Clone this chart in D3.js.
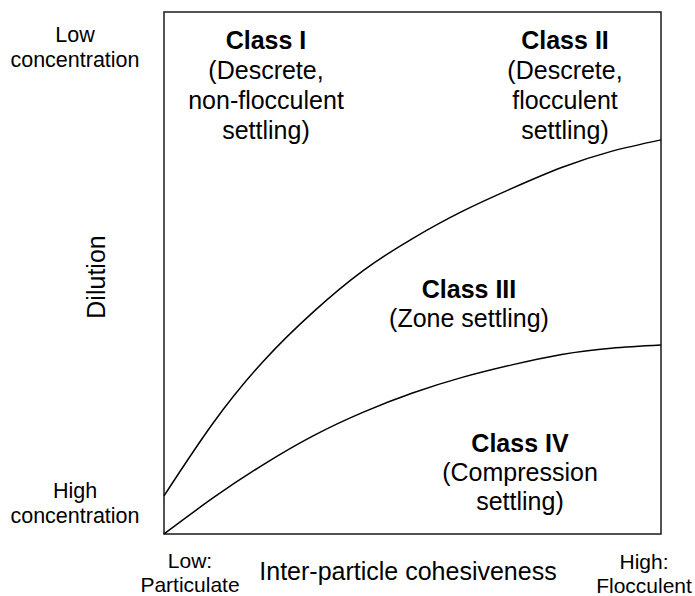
<!DOCTYPE html>
<html>
<head>
<meta charset="utf-8">
<script src="https://cdn.jsdelivr.net/npm/d3@7"></script>
<style>
  body { margin: 0; background: #fff; }
  text { font-family: "Liberation Sans", Arial, sans-serif; fill: #000; }
</style>
</head>
<body>
<div id="chart"></div>
<script>
// --- DATA ---
// cohesiveness (0 = particulate, 1 = flocculent)
const cohesion = [0, 0.1, 0.2, 0.3, 0.4, 0.5, 0.6, 0.7, 0.8, 0.9, 1.0];
// boundary between Class I/II and Class III (fraction of dilution axis)
const zoneBoundary = [0.073, 0.214, 0.331, 0.425, 0.504, 0.566, 0.618, 0.662, 0.702, 0.733, 0.755];
// boundary between Class III and Class IV
const compressionBoundary = [0, 0.070, 0.133, 0.188, 0.233, 0.270, 0.300, 0.324, 0.344, 0.356, 0.362];

const classNames = ["Class I", "Class II", "Class III", "Class IV"];
const classNotes = [
    ["(Descrete,", "non-flocculent", "settling)"],
    ["(Descrete,", "flocculent", "settling)"],
    ["(Zone settling)"],
    ["(Compression", "settling)"]
];
const yEndLabels = [["Low", "concentration"], ["High", "concentration"]];
const xEndLabels = [["Low:", "Particulate"], ["High:", "Flocculent"]];
const xTitle = "Inter-particle cohesiveness";
const yTitle = "Dilution";

// --- LAYOUT ---
const width = 695, height = 596;
const box = { left: 164, right: 661, top: 12, bottom: 534 };

const svg = d3.select("#chart")
    .append("svg")
    .attr("width", width)
    .attr("height", height);

const x = d3.scaleLinear().domain([0, 1]).range([box.left, box.right]);
const y = d3.scaleLinear().domain([0, 1]).range([box.bottom, box.top]);

// frame
svg.append("rect")
    .attr("x", x(0))
    .attr("y", y(1))
    .attr("width", x(1) - x(0))
    .attr("height", y(0) - y(1))
    .attr("fill", "none")
    .attr("stroke", "#1a1a1a")
    .attr("stroke-width", 1.5);

// boundary curves
const line = d3.line()
    .x(d => x(d[0]))
    .y(d => y(d[1]))
    .curve(d3.curveNatural);

[zoneBoundary, compressionBoundary].forEach(series => {
    svg.append("path")
        .datum(cohesion.map((c, i) => [c, series[i]]))
        .attr("d", line)
        .attr("fill", "none")
        .attr("stroke", "#000")
        .attr("stroke-width", 1.5);
});

// region labels: [centre x, first baseline y] in pixels
const classAnchors = [[266, 49], [565, 49], [469, 298], [520, 452]];
const classSpacing = [30, 30, 29, 29];

classNames.forEach((name, i) => {
    const [cx, cy] = classAnchors[i];
    const t = svg.append("text")
        .attr("text-anchor", "middle")
        .attr("font-size", "25px");
    t.append("tspan")
        .attr("x", cx).attr("y", cy)
        .attr("font-weight", "bold")
        .text(name);
    classNotes[i].forEach((s, j) => {
        t.append("tspan")
            .attr("x", cx).attr("y", cy + classSpacing[i] * (j + 1))
            .text(s);
    });
});

// end labels of the dilution axis
const yEndPos = [[75, 42], [75, 498]];
yEndLabels.forEach((lines, i) => {
    const t = svg.append("text")
        .attr("text-anchor", "middle")
        .attr("font-size", "21.5px");
    lines.forEach((s, j) => {
        t.append("tspan")
            .attr("x", yEndPos[i][0]).attr("y", yEndPos[i][1] + 25 * j)
            .text(s);
    });
});

// end labels of the cohesiveness axis
const xEndPos = [[190, 568], [644, 569]];
xEndLabels.forEach((lines, i) => {
    const t = svg.append("text")
        .attr("text-anchor", "middle")
        .attr("font-size", "21px");
    lines.forEach((s, j) => {
        t.append("tspan")
            .attr("x", xEndPos[i][0]).attr("y", xEndPos[i][1] + 24 * j)
            .text(s);
    });
});

// axis titles
svg.append("text")
    .attr("x", 408)
    .attr("y", 580)
    .attr("text-anchor", "middle")
    .attr("font-size", "25px")
    .text(xTitle);

svg.append("text")
    .attr("transform", "translate(105,277) rotate(-90)")
    .attr("text-anchor", "middle")
    .attr("font-size", "25px")
    .text(yTitle);
</script>
</body>
</html>
